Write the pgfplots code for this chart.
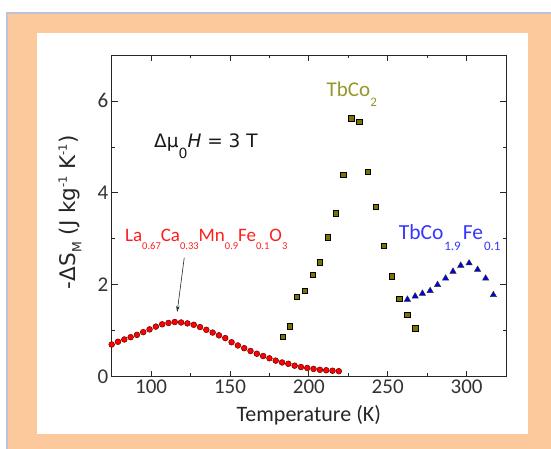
\documentclass[border=0pt]{standalone}
\usepackage{fontspec}
\setmainfont{Carlito}
\newfontfamily\dejavu{DejaVu Sans}
\usepackage{pgfplots}
\pgfplotsset{compat=1.18}
\usetikzlibrary{arrows.meta}
\definecolor{peach}{RGB}{251,201,156}
\definecolor{framegrey}{RGB}{190,194,221}
\definecolor{olivefill}{RGB}{122,115,0}
\definecolor{olivetext}{RGB}{150,150,45}
\definecolor{bluetext}{RGB}{55,55,255}
\definecolor{redtext}{RGB}{255,30,30}
\newcommand{\lo}[3]{\raisebox{-#1pt}{\fontsize{#2}{#2}\selectfont #3}}
\newcommand{\hi}[3]{\raisebox{#1pt}{\fontsize{#2}{#2}\selectfont #3}}
\begin{document}
\begin{tikzpicture}[x=1pt,y=1pt]
\fill[white] (0,0) rectangle (551,449);
\fill[framegrey] (6,0) rectangle (551,437);
\fill[peach] (8,0) rectangle (551,434.5);
\fill[white] (37,15) rectangle (528,415.5);
\begin{axis}[
  at={(111.7pt,72.3pt)}, anchor=south west, scale only axis,
  width=394.3pt, height=321.7pt,
  xmin=75, xmax=325, ymin=0, ymax=7,
  xtick={100,150,200,250,300}, minor x tick num=1,
  ytick={0,2,4,6}, minor y tick num=1,
  tick align=inside, major tick length=6pt, minor tick length=3.5pt,
  axis line style={black!85, line width=0.8pt},
  every tick/.style={black!85, line width=0.8pt},
  /pgf/number format/assume math mode=true,
  ticklabel style={font=\fontsize{21}{21}\selectfont, text=black!80},
  xlabel={Temperature (K)},
  xlabel style={font=\fontsize{22}{22}\selectfont, text=black!85, at={(axis description cs:0.5,-0.121)}, anchor=center},
  ylabel={{\dejavu -\kern1pt ΔS\lo{5.5}{12.5}{M} (J kg\hi{9}{11.5}{-1} K\hi{9}{11.5}{-1})}},
  ylabel style={font=\fontsize{21.5}{21.5}\selectfont, text=black!85, at={(axis description cs:-0.106,0.51)}, anchor=center},
  clip=false,
]
\addplot[only marks, mark=*, mark size=2.9pt, mark options={fill=red, draw=black!60!red, line width=0.5pt}] coordinates {
(75,0.70) (79,0.76) (83,0.81) (87,0.86) (91,0.91) (95,0.97) (99,1.03) (103,1.09) (107,1.14) (111,1.17) (115,1.19) (119,1.18) (123,1.16) (127,1.13) (131,1.08) (135,1.02) (139,0.96) (143,0.90) (147,0.84) (151,0.75) (155,0.68) (159,0.62) (163,0.56) (167,0.50) (171,0.45) (175,0.40) (179,0.35) (183,0.31) (187,0.28) (191,0.24) (195,0.21) (199,0.19) (203,0.17) (207,0.15) (211,0.14) (215,0.13) (219,0.12)
};
\addplot[only marks, mark=square*, mark size=2.7pt, mark options={fill=olivefill, draw=black, line width=0.9pt}] coordinates {
(183.5,0.87) (188,1.09) (192.5,1.74) (197.5,1.87) (202.5,2.21) (207,2.49) (212,3.03) (217,3.55) (222,4.39) (227,5.62) (232,5.54) (237.5,4.46) (242.5,3.69) (247.5,2.84) (252.5,2.18) (257.5,1.69) (262.5,1.35) (267.5,1.05)
};
\addplot[only marks, mark=triangle*, mark size=3.6pt, mark options={fill=blue!92!black, draw=black!80, line width=0.5pt}] coordinates {
(262.5,1.68) (267.4,1.75) (272,1.81) (276.9,1.87) (281.6,2.00) (286.7,2.14) (291.4,2.29) (296.3,2.42) (301.6,2.47) (307,2.33) (312.1,2.14) (317,1.78)
};
\node[anchor=base west, inner sep=0, font=\dejavu\fontsize{18.5}{18.5}\selectfont, text=black!90] at (axis cs:101.8,4.98) {Δμ\lo{11}{14}{0}\textit{H} = 3 T};
\node[anchor=base west, inner sep=0, font=\fontsize{21}{21}\selectfont, text=olivetext] at (axis cs:211.2,6.10) {TbCo\lo{10}{13}{2}};
\node[anchor=base west, inner sep=0, font=\fontsize{21.5}{21.5}\selectfont, text=bluetext] at (axis cs:256.9,2.98) {TbCo\kern1pt\lo{11}{13}{1.9}\kern2pt Fe\kern1pt\lo{11}{13}{0.1}};
\node[anchor=base west, inner sep=0, font=\fontsize{19}{19}\selectfont, text=redtext] at (axis cs:83.4,2.94) {La\lo{8}{10.5}{0.67}Ca\lo{8}{10.5}{0.33}Mn\lo{8}{10.5}{0.9}Fe\lo{8}{10.5}{0.1}O\lo{8}{10.5}{3}};
\draw[black!85, line width=0.6pt, -{Stealth[length=6pt,width=3.5pt]}] (axis cs:121,2.59) -- (axis cs:116.5,1.41);
\end{axis}
\end{tikzpicture}
\end{document}
